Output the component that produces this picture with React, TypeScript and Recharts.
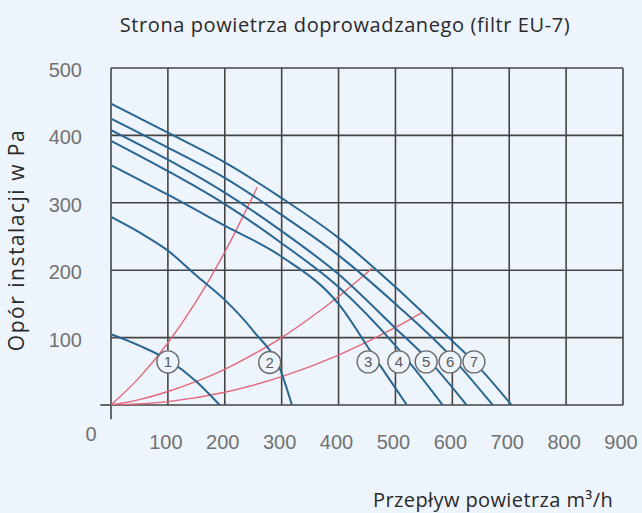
import React from 'react';
import { LineChart, Line, XAxis, YAxis, CartesianGrid, ReferenceLine, ReferenceDot } from 'recharts';

// Axis ticks
const flowTicks = [0, 100, 200, 300, 400, 500, 600, 700, 800, 900];
const pressureTicks = [0, 100, 200, 300, 400, 500];

// Fan curves (flow m3/h -> pressure Pa)
const fan1Q = [0, 50, 100, 150, 191];
const fan1P = [105, 88, 67, 35, 0];
const fan2Q = [0, 50, 100, 150, 200, 250, 300, 318];
const fan2P = [279, 256, 229, 192, 156, 110, 47, 0];
const fan3Q = [0, 100, 200, 300, 400, 460, 520];
const fan3P = [356, 312, 266, 220, 150, 75, 0];
const fan4Q = [0, 100, 200, 300, 400, 500, 583];
const fan4P = [392, 347, 298, 240, 175, 88, 0];
const fan5Q = [0, 100, 200, 300, 400, 500, 560, 625];
const fan5P = [408, 364, 315, 258, 194, 114, 65, 0];
const fan6Q = [0, 100, 200, 300, 400, 500, 600, 671];
const fan6P = [425, 382, 337, 282, 222, 150, 70, 0];
const fan7Q = [0, 100, 200, 300, 400, 500, 600, 638, 704];
const fan7P = [447, 404, 360, 307, 248, 175, 95, 64, 0];

// System curves (red)
const sys1Q = [0, 50, 100, 150, 200, 257];
const sys1P = [0, 41, 92, 154, 227, 323];
const sys2Q = [0, 50, 100, 150, 200, 250, 300, 350, 400, 459];
const sys2P = [0, 8, 20, 35, 53, 75, 100, 129, 161, 203];
const sys3Q = [0, 100, 200, 300, 400, 500, 548];
const sys3P = [0, 5, 19, 42, 74, 115, 138];

// Circled curve labels
const labelNames = ['1', '2', '3', '4', '5', '6', '7'];
const labelQ = [100, 279, 452, 506, 554, 596, 638];
const labelP = [64, 63, 64, 64, 64, 64, 64];

// Texts
const titleText = 'Strona powietrza doprowadzanego (filtr EU-7)';
const yTitle = 'Opór instalacji w Pa';
const xTitle = 'Przepływ powietrza m³/h';

const zip = (q: number[], p: number[]) => q.map((v, i) => ({ q: v, p: p[i] }));

const fans = [
  zip(fan1Q, fan1P), zip(fan2Q, fan2P), zip(fan3Q, fan3P), zip(fan4Q, fan4P),
  zip(fan5Q, fan5P), zip(fan6Q, fan6P), zip(fan7Q, fan7P),
];
const systems = [zip(sys1Q, sys1P), zip(sys2Q, sys2P), zip(sys3Q, sys3P)];

const BG = '#EEF4FB';
const GRID = '#444444';
const BLUE = '#2a6692';
const RED = '#e2677a';
const TICK_FONT = '"Liberation Sans", Arial, sans-serif';
const TEXT_FONT = '"Open Sans", "Noto Sans", sans-serif';
const TICK_COLOR = '#727272';

const XTick = (props: any) => {
  const { x, y, payload } = props;
  if (payload.value === 0) {
    return (
      <text x={x - 20} y={y + 36} textAnchor="middle" fontFamily={TICK_FONT} fontSize={20} fill={TICK_COLOR}>
        0
      </text>
    );
  }
  return (
    <text x={x - 2} y={y + 44} textAnchor="middle" fontFamily={TICK_FONT} fontSize={20} fill={TICK_COLOR}>
      {payload.value}
    </text>
  );
};

const YTick = (props: any) => {
  const { x, y, payload } = props;
  if (payload.value === 0) return null;
  return (
    <text x={x - 29} y={y + 9} textAnchor="end" fontFamily={TICK_FONT} fontSize={20} fill={TICK_COLOR}>
      {payload.value}
    </text>
  );
};

const makeBadge = (name: string) => (props: any) => {
  const { cx, cy } = props;
  return (
    <g>
      <circle cx={cx} cy={cy} r={11} fill={BG} stroke="#6b6b6b" strokeWidth={1.4} />
      <text x={cx} y={cy + 5.5} textAnchor="middle" fontFamily={TICK_FONT} fontSize={15} fill="#5a5a5a">
        {name}
      </text>
    </g>
  );
};

export default function App() {
  return (
    <div style={{ position: 'fixed', left: 0, top: 0, width: 642, height: 513, background: BG }}>
      <LineChart
        width={642}
        height={513}
        margin={{ top: 68, right: 19, bottom: 78, left: 51 }}
      >
        <CartesianGrid stroke={GRID} strokeWidth={1.6} fill="none" />
        <XAxis
          type="number"
          dataKey="q"
          domain={[0, 900]}
          ticks={flowTicks}
          axisLine={false}
          tickLine={false}
          tickSize={0}
          tickMargin={0}
          height={30}
          tick={<XTick />}
          allowDataOverflow
        />
        <YAxis
          type="number"
          dataKey="p"
          domain={[0, 500]}
          ticks={pressureTicks}
          axisLine={false}
          tickLine={false}
          tickSize={0}
          tickMargin={0}
          width={60}
          tick={<YTick />}
          allowDataOverflow
        />
        <ReferenceLine
          segment={[{ x: 0, y: 0 }, { x: 0, y: -21 }]}
          stroke={GRID}
          strokeWidth={1.6}
          ifOverflow="visible"
        />
        <ReferenceLine
          segment={[{ x: -19, y: 0 }, { x: 0, y: 0 }]}
          stroke={GRID}
          strokeWidth={1.6}
          ifOverflow="visible"
        />
        {systems.map((d, i) => (
          <Line
            key={'s' + i}
            data={d}
            dataKey="p"
            type="monotone"
            stroke={RED}
            strokeWidth={1.4}
            dot={false}
            activeDot={false}
            isAnimationActive={false}
          />
        ))}
        {fans.map((d, i) => (
          <Line
            key={'f' + i}
            data={d}
            dataKey="p"
            type="monotone"
            stroke={BLUE}
            strokeWidth={2}
            dot={false}
            activeDot={false}
            isAnimationActive={false}
          />
        ))}
        {labelNames.map((n, i) => (
          <ReferenceDot
            key={'l' + i}
            x={labelQ[i]}
            y={labelP[i]}
            r={11}
            shape={makeBadge(n)}
          />
        ))}
      </LineChart>
      <svg
        width={642}
        height={513}
        style={{ position: 'absolute', left: 0, top: 0, pointerEvents: 'none' }}
      >
        <text x={345} y={32} textAnchor="middle" fontFamily={TEXT_FONT} fontSize={20} letterSpacing={0.6} fill="#2a2a2a">
          {titleText}
        </text>
        <text
          x={24}
          y={240}
          textAnchor="middle"
          transform="rotate(-90 24 240)"
          fontFamily={TEXT_FONT}
          fontSize={21}
          letterSpacing={1.5}
          fill="#2a2a2a"
        >
          {yTitle}
        </text>
        <text x={373} y={507} textAnchor="start" fontFamily={TEXT_FONT} fontSize={20} letterSpacing={0.4} fill="#2a2a2a">
          {xTitle}
        </text>
      </svg>
    </div>
  );
}
